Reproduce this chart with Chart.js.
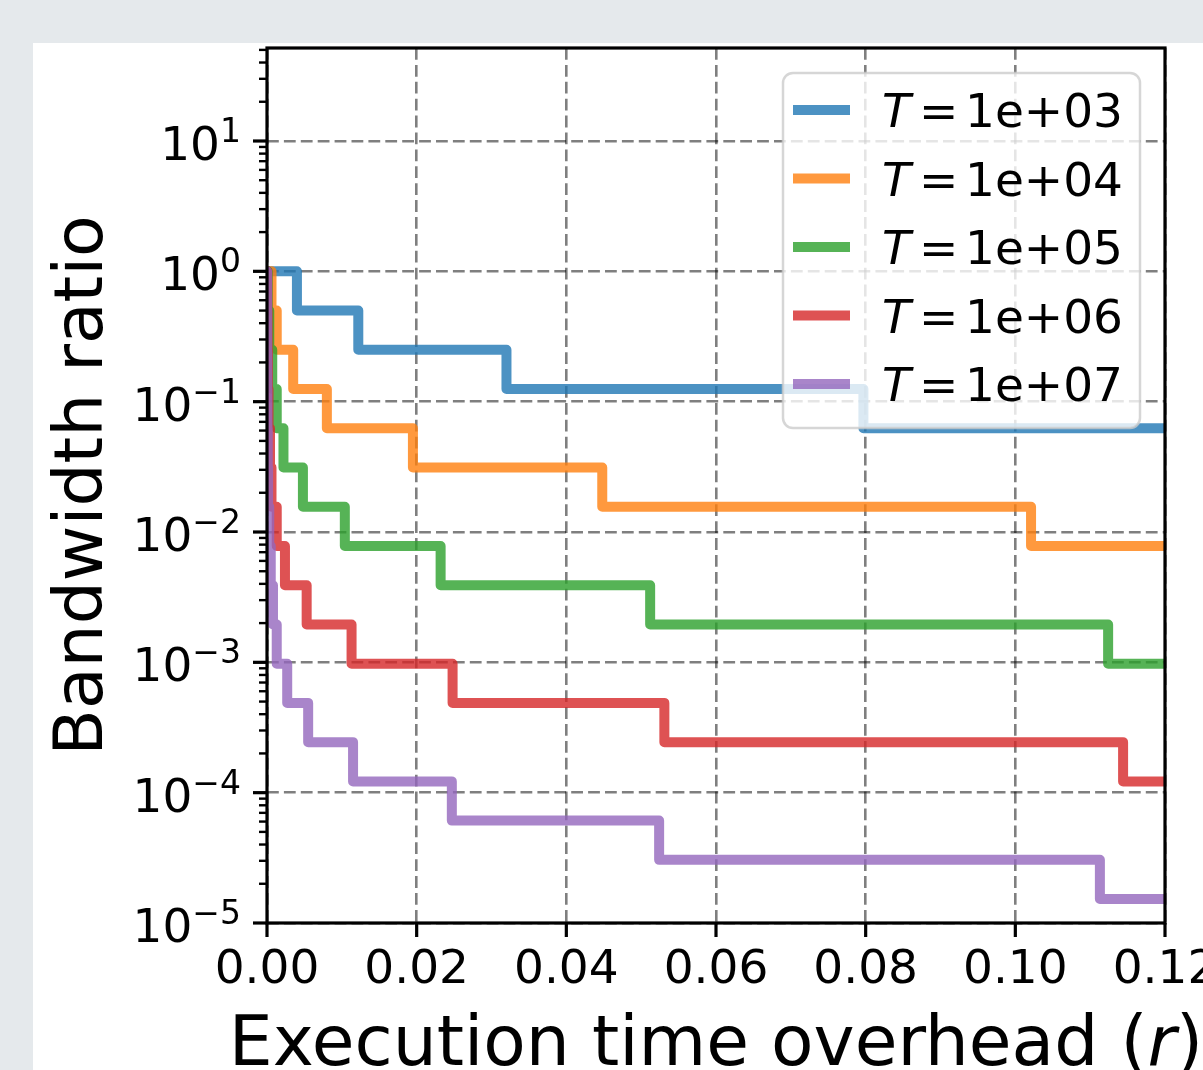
<!DOCTYPE html>
<html>
<head>
<meta charset="utf-8">
<title>Bandwidth ratio vs execution time overhead</title>
<script src="https://cdn.jsdelivr.net/npm/chart.js@4.4.1/dist/chart.umd.min.js"></script>
<style>
  html, body { margin: 0; padding: 0; background: #e5e9ec; overflow: hidden; }
  #wrap { position: absolute; left: 33px; top: 43px; width: 1250px; height: 1040px; background: #fff; }
</style>
</head>
<body>
<div id="wrap"><canvas id="chart" width="1250" height="1040"></canvas></div>
<script>
"use strict";

// legend values of T, one per series
var seriesT = ['1e+03', '1e+04', '1e+05', '1e+06', '1e+07'];
var seriesColors = [
    'rgba(31, 119, 180, 0.8)',
    'rgba(255, 127, 14, 0.8)',
    'rgba(44, 160, 44, 0.8)',
    'rgba(214, 39, 40, 0.8)',
    'rgba(148, 103, 189, 0.8)'
];

// step positions (execution time overhead r) and bandwidth ratio after each step
var xT3 = [0, 0.004, 0.0122, 0.032, 0.0797, 0.12];
var yT3 = [1, 0.5, 0.25, 0.125, 0.0625, 0.0625];

var xT4 = [0, 0.0006, 0.0013, 0.0035, 0.008, 0.0195, 0.0448, 0.1021, 0.12];
var yT4 = [1, 0.5, 0.25, 0.125, 0.0625, 0.03125, 0.015625, 0.0078125, 0.0078125];

var xT5 = [0, 0.0001, 0.0003, 0.0007, 0.0013, 0.0022, 0.0048, 0.0104, 0.0232, 0.0512, 0.1124, 0.12];
var yT5 = [1, 0.5, 0.25, 0.125, 0.0625, 0.03125, 0.015625, 0.0078125, 0.00390625, 0.001953125,
    0.0009765625, 0.0009765625];

var xT6 = [0, 0.00003, 0.00007, 0.00012, 0.0002, 0.0004, 0.0006, 0.0013, 0.0024, 0.0053, 0.0113,
    0.0248, 0.0531, 0.1144, 0.12];
var yT6 = [1, 0.5, 0.25, 0.125, 0.0625, 0.03125, 0.015625, 0.0078125, 0.00390625, 0.001953125,
    0.0009765625, 0.00048828125, 0.000244140625, 0.0001220703125, 0.0001220703125];

var xT7 = [0, 0.00001, 0.00002, 0.00004, 0.00006, 0.0001, 0.00015, 0.0003, 0.0005, 0.0008, 0.0013,
    0.0027, 0.0055, 0.0115, 0.0247, 0.0524, 0.1113, 0.12];
var yT7 = [1, 0.5, 0.25, 0.125, 0.0625, 0.03125, 0.015625, 0.0078125, 0.00390625, 0.001953125,
    0.0009765625, 0.00048828125, 0.000244140625, 0.0001220703125, 0.00006103515625,
    0.000030517578125, 0.0000152587890625, 0.0000152587890625];

// axis ticks
var xTickValues = [0, 0.02, 0.04, 0.06, 0.08, 0.10, 0.12];
var xTickLabels = ['0.00', '0.02', '0.04', '0.06', '0.08', '0.10', '0.12'];
var yDecades = [1e-5, 1e-4, 1e-3, 1e-2, 1e-1, 1, 10];
var yExponents = ['\u22125', '\u22124', '\u22123', '\u22122', '\u22121', '0', '1'];
var yMin = 1e-5, yMax = 51.7;

var FONT = 'DejaVu Sans';
var GRID = 'rgba(0, 0, 0, 0.5)';

Chart.defaults.font.family = FONT;
Chart.defaults.color = '#000';

function toPoints(xs, ys) {
    return xs.map(function (x, i) { return { x: x, y: ys[i] }; });
}

function decadeIndex(v) {
    for (var i = 0; i < yDecades.length; i++) {
        if (Math.abs(v / yDecades[i] - 1) < 1e-6) return i;
    }
    return -1;
}

// 'major' for 10^n, 'minor' for 2..9 x 10^n, null otherwise
function tickKind(v) {
    var e = Math.floor(Math.log10(v) + 1e-9);
    var s = v / Math.pow(10, e);
    var r = Math.round(s);
    if (Math.abs(s - r) > 1e-6) return null;
    return (r === 1 || r === 10) ? 'major' : 'minor';
}

var allX = [xT3, xT4, xT5, xT6, xT7];
var allY = [yT3, yT4, yT5, yT6, yT7];

var datasets = seriesT.map(function (t, i) {
    return {
        label: 'T = ' + t,
        data: toPoints(allX[i], allY[i]),
        borderColor: seriesColors[i],
        backgroundColor: seriesColors[i],
        borderWidth: 10,
        borderJoinStyle: 'round',
        borderCapStyle: 'round',
        stepped: 'before',
        pointRadius: 0,
        fill: false,
        clip: 0,
        order: seriesT.length - i
    };
});

// spines, matplotlib-like tick marks and labels, legend box and the x-axis title
var mplDecor = {
    id: 'mplDecor',
    afterDraw: function (chart) {
        var ctx = chart.ctx;
        var area = chart.chartArea;
        var xs = chart.scales.x, ys = chart.scales.y;
        ctx.save();
        ctx.strokeStyle = '#000';
        ctx.lineCap = 'butt';

        ys.ticks.forEach(function (t) {
            var kind = tickKind(t.value);
            if (!kind) return;
            var py = ys.getPixelForValue(t.value);
            var len = kind === 'major' ? 14 : 8;
            ctx.lineWidth = kind === 'major' ? 3.2 : 2.4;
            ctx.beginPath();
            ctx.moveTo(area.left - len, py);
            ctx.lineTo(area.left, py);
            ctx.stroke();
        });
        xs.ticks.forEach(function (t) {
            var px = xs.getPixelForValue(t.value);
            ctx.lineWidth = 3.2;
            ctx.beginPath();
            ctx.moveTo(px, area.bottom);
            ctx.lineTo(px, area.bottom + 14);
            ctx.stroke();
        });

        ctx.lineWidth = 3.2;
        ctx.strokeRect(area.left, area.top, area.right - area.left, area.bottom - area.top);

        // y tick labels: 10 with a raised exponent
        ctx.fillStyle = '#000';
        ctx.textAlign = 'left';
        ctx.textBaseline = 'alphabetic';
        yDecades.forEach(function (v, k) {
            var py = ys.getPixelForValue(v);
            var right = area.left - 26;
            ctx.font = '33px "' + FONT + '"';
            var ew = ctx.measureText(yExponents[k]).width;
            ctx.font = '47px "' + FONT + '"';
            var bw = ctx.measureText('10').width;
            ctx.fillText('10', right - ew - bw, py + 19);
            ctx.font = '33px "' + FONT + '"';
            ctx.fillText(yExponents[k], right - ew, py + 1);
        });

        // legend
        var bw = 357, bh = 355;
        var bx = area.right - 25 - bw, by = area.top + 25;
        ctx.beginPath();
        ctx.roundRect(bx, by, bw, bh, 10);
        ctx.fillStyle = 'rgba(255, 255, 255, 0.8)';
        ctx.fill();
        ctx.lineWidth = 2.5;
        ctx.strokeStyle = 'rgba(204, 204, 204, 0.8)';
        ctx.stroke();

        chart.data.datasets.forEach(function (ds, i) {
            var ry = by + 37 + i * 68.5;
            ctx.strokeStyle = ds.borderColor;
            ctx.lineWidth = 10;
            ctx.beginPath();
            ctx.moveTo(bx + 10, ry);
            ctx.lineTo(bx + 67, ry);
            ctx.stroke();

            ctx.fillStyle = '#000';
            ctx.font = 'italic 47px "' + FONT + '"';
            ctx.fillText('T', bx + 99, ry + 17);
            ctx.font = '47px "' + FONT + '"';
            ctx.fillText('=', bx + 136, ry + 17);
            ctx.fillText(seriesT[i], bx + 182, ry + 17);
        });

        // x-axis title with italic r
        var parts = [['Execution time overhead (', ''], ['r', 'italic '], [')', '']];
        var total = 0;
        parts.forEach(function (p) {
            ctx.font = p[1] + '69.5px "' + FONT + '"';
            p.push(ctx.measureText(p[0]).width);
            total += p[2];
        });
        var tx = (area.left + area.right) / 2 - total / 2;
        var tyBase = area.bottom + 142;
        ctx.fillStyle = '#000';
        parts.forEach(function (p) {
            ctx.font = p[1] + '69.5px "' + FONT + '"';
            ctx.fillText(p[0], tx, tyBase);
            tx += p[2];
        });
        ctx.restore();
    }
};

var salesChart = new Chart(document.getElementById('chart'), {
    type: 'line',
    data: { datasets: datasets },
    options: {
        responsive: false,
        animation: false,
        devicePixelRatio: 1,
        layout: { padding: { left: 0, top: 5, right: 118, bottom: 0 } },
        plugins: {
            legend: { display: false },
            tooltip: { enabled: false }
        },
        scales: {
            x: {
                type: 'linear',
                min: 0,
                max: 0.12,
                afterBuildTicks: function (scale) {
                    scale.ticks = xTickValues.map(function (v) { return { value: v }; });
                },
                ticks: {
                    autoSkip: false,
                    maxRotation: 0,
                    padding: 20,
                    font: { size: 47 },
                    callback: function (v, i) { return xTickLabels[i]; }
                },
                grid: { color: GRID, lineWidth: 2.6, drawTicks: false },
                border: { display: false, dash: [11.8, 5.1] },
                afterFit: function (scale) {
                    scale.height = 160;
                    scale.paddingLeft = 0;
                    scale.paddingRight = 0;
                }
            },
            y: {
                type: 'logarithmic',
                min: yMin,
                max: yMax,
                ticks: {
                    display: false,
                    autoSkip: false
                },
                grid: {
                    color: function (c) { return c.tick && decadeIndex(c.tick.value) >= 0 ? GRID : 'rgba(0,0,0,0)'; },
                    lineWidth: function (c) { return c.tick && decadeIndex(c.tick.value) >= 0 ? 2.6 : 0; },
                    drawTicks: false
                },
                border: { display: false, dash: [11.8, 5.1] },
                title: {
                    display: true,
                    text: 'Bandwidth ratio',
                    font: { size: 68 },
                    padding: { top: 11, bottom: 0 }
                },
                afterFit: function (scale) {
                    scale.width = 234;
                    scale.paddingTop = 0;
                    scale.paddingBottom = 0;
                }
            }
        }
    },
    plugins: [mplDecor]
});
</script>
</body>
</html>
